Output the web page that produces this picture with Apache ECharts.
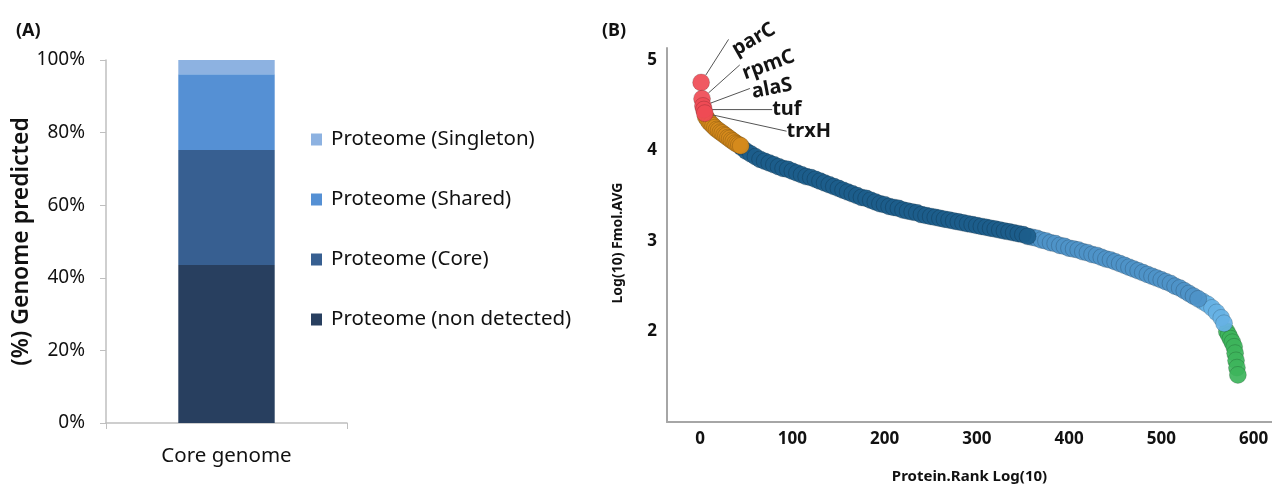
<!DOCTYPE html>
<html><head><meta charset="utf-8">
<script src="https://cdn.jsdelivr.net/npm/echarts@6/dist/echarts.min.js"></script>
<style>html,body{margin:0;padding:0;background:#fff}#c{width:1272px;height:488px}</style>
</head><body><div id="c"></div>
<script>
// ---------- Panel A data ----------
const barCategories = ['Core genome'];
const barSeriesNames = ['Proteome (non detected)', 'Proteome (Core)', 'Proteome (Shared)', 'Proteome (Singleton)'];
const barValues = [43.5, 31.7, 20.9, 3.9];
const legendOrder = ['Proteome (Singleton)', 'Proteome (Shared)', 'Proteome (Core)', 'Proteome (non detected)'];

// ---------- Panel B data ----------
const redNames = ['parC', 'rpmC', 'alaS', 'tuf', 'trxH'];
const redRanks = [1, 2, 3, 4, 5];
const redValues = [4.75, 4.57, 4.49, 4.45, 4.41];

const orangeRanks = [6, 8, 10, 12, 14, 16, 18, 20, 22, 24, 26, 28, 30, 32, 34, 36, 38, 40, 42, 44];
const orangeValues = [4.37, 4.34, 4.31, 4.29, 4.27, 4.25, 4.23, 4.22, 4.20, 4.19, 4.17, 4.16, 4.14, 4.13, 4.11, 4.10, 4.08, 4.07, 4.06, 4.05];

const darkBlueRanks = [45, 50, 55, 60, 65, 70, 75, 80, 85, 90, 95, 100, 105, 110, 115, 120, 125, 130, 135, 140, 145, 150, 155, 160, 165, 170, 175, 180, 185, 190, 195, 200, 205, 210, 215, 220, 225, 230, 235, 240, 245, 250, 255, 260, 265, 270, 275, 280, 285, 290, 295, 300, 305, 310, 315, 320, 325, 330, 335, 340, 345, 350, 355];
const darkBlueValues = [4.03, 3.99, 3.96, 3.93, 3.90, 3.88, 3.86, 3.84, 3.82, 3.80, 3.79, 3.77, 3.75, 3.73, 3.71, 3.70, 3.68, 3.66, 3.64, 3.62, 3.60, 3.58, 3.56, 3.54, 3.52, 3.50, 3.48, 3.47, 3.45, 3.43, 3.41, 3.40, 3.38, 3.37, 3.36, 3.34, 3.33, 3.32, 3.31, 3.29, 3.28, 3.27, 3.26, 3.25, 3.24, 3.23, 3.22, 3.21, 3.20, 3.19, 3.18, 3.17, 3.16, 3.15, 3.14, 3.13, 3.12, 3.11, 3.10, 3.09, 3.08, 3.07, 3.05];

const lightBlueRanks = [360, 365, 370, 375, 380, 385, 390, 395, 400, 405, 410, 415, 420, 425, 430, 435, 440, 445, 450, 455, 460, 465, 470, 475, 480, 485, 490, 495, 500, 505, 510, 515, 520, 525, 530, 535, 540];
const lightBlueValues = [3.04, 3.03, 3.01, 3.00, 2.98, 2.97, 2.95, 2.94, 2.92, 2.91, 2.90, 2.88, 2.87, 2.85, 2.84, 2.82, 2.80, 2.79, 2.77, 2.75, 2.73, 2.71, 2.69, 2.67, 2.65, 2.63, 2.61, 2.59, 2.57, 2.55, 2.53, 2.50, 2.48, 2.45, 2.42, 2.39, 2.36];

const paleBlueRanks = [545, 550, 555, 560, 565, 568];
const paleBlueValues = [2.33, 2.30, 2.26, 2.21, 2.15, 2.09];

const greenRanks = [571, 573, 575, 577, 579, 580, 581, 582, 583];
const greenValues = [2.00, 1.96, 1.92, 1.88, 1.83, 1.76, 1.68, 1.60, 1.52];

const xTickLabels = ['0', '100', '200', '300', '400', '500', '600'];
const yTickLabels = ['2', '3', '4', '5'];

// ---------- build ----------
const FONT = 'Noto Sans';
const barColors = ['#283f5f', '#375f91', '#5590d4', '#8db2e1'];
const pair = (xs, ys) => xs.map((x, i) => [x, ys[i]]);

// label offsets are expressed in the label's rotated frame
const annotationLayout = {
  parC: { dx: 67, dy: -11, rotate: 30 },
  rpmC: { dx: 74, dy: -9, rotate: 20 },
  alaS: { dx: 71, dy: -4, rotate: 11 },
  tuf:  { dx: 83, dy: 0, rotate: 0 },
  trxH: { dx: 104, dy: 18, rotate: 0 }
};

function scatterSeries(name, data, color, z) {
  return {
    name, type: 'scatter', xAxisIndex: 1, yAxisIndex: 1, z,
    symbolSize: 17, data,
    itemStyle: { color, opacity: 0.92, borderColor: 'rgba(0,0,0,0.18)', borderWidth: 1 }
  };
}

const chart = echarts.init(document.getElementById('c'));
const option = {
  backgroundColor: '#fff',
  animation: false,
  textStyle: { fontFamily: FONT },
  title: [
    { text: '(A)', left: 11, top: 17, textStyle: { fontFamily: FONT, fontSize: 18, fontWeight: 'bold', color: '#111' } },
    { text: '(B)', left: 597, top: 17, textStyle: { fontFamily: FONT, fontSize: 18, fontWeight: 'bold', color: '#111' } }
  ],
  legend: {
    data: legendOrder, orient: 'vertical', left: 306, top: 124,
    itemWidth: 11, itemHeight: 12, itemGap: 39, icon: 'rect',
    textStyle: { fontFamily: FONT, fontSize: 20.5, color: '#111', lineHeight: 20, padding: [0, 0, 0, 4] }
  },
  grid: [
    { left: 106, right: 1272 - 347, top: 60, bottom: 488 - 423, outerBoundsMode: 'none', containLabel: false },
    { left: 667, right: 0, top: 48, bottom: 488 - 422, outerBoundsMode: 'none', containLabel: false }
  ],
  xAxis: [
    {
      type: 'category', gridIndex: 0, data: barCategories,
      axisLine: { lineStyle: { color: '#bfbfbf', width: 1.5 } },
      axisTick: { show: true, length: 6, lineStyle: { color: '#bfbfbf' } },
      axisLabel: { fontFamily: FONT, fontSize: 20.5, color: '#111', margin: 23 }
    },
    {
      type: 'value', gridIndex: 1, min: -36, max: 620,
      axisLine: { show: true, onZero: false, lineStyle: { color: '#a6a6a6', width: 2 } },
      axisTick: { show: false }, splitLine: { show: false },
      axisLabel: {
        fontFamily: FONT, fontSize: 17, fontWeight: 'bold', color: '#111', margin: 9,
        showMinLabel: false, showMaxLabel: false,
        formatter: v => xTickLabels.includes(String(v)) ? String(v) : ''
      },
      name: 'Protein.Rank Log(10)', nameLocation: 'middle', nameGap: 47,
      nameTextStyle: { fontFamily: FONT, fontSize: 15, fontWeight: 'bold', color: '#111' }
    }
  ],
  yAxis: [
    {
      type: 'value', gridIndex: 0, min: 0, max: 100, interval: 20,
      axisLine: { show: true, lineStyle: { color: '#bfbfbf', width: 1.5 } },
      axisTick: { show: true, length: 6, lineStyle: { color: '#bfbfbf' } },
      splitLine: { show: false },
      axisLabel: { fontFamily: FONT, fontSize: 19, color: '#111', margin: 21, formatter: '{value}%' },
      name: '(%) Genome predicted', nameLocation: 'middle', nameRotate: 90, nameGap: 72,
      nameTextStyle: { fontFamily: FONT, fontSize: 23, fontWeight: 600, color: '#111' }
    },
    {
      type: 'value', gridIndex: 1, min: 1, max: 5.13, interval: 1,
      axisLine: { show: true, onZero: false, lineStyle: { color: '#a6a6a6', width: 2 } },
      axisTick: { show: false }, splitLine: { show: false },
      axisLabel: {
        fontFamily: FONT, fontSize: 17, fontWeight: 'bold', color: '#111', margin: 10,
        showMinLabel: false, showMaxLabel: false,
        formatter: v => yTickLabels.includes(String(v)) ? String(v) : ''
      },
      name: 'Log(10) Fmol.AVG', nameLocation: 'middle', nameRotate: 90, nameGap: 42,
      nameTextStyle: { fontFamily: FONT, fontSize: 14, fontWeight: 'bold', color: '#111', padding: [0, 16, 0, 0] }
    }
  ],
  series: [
    ...barSeriesNames.map((n, i) => ({
      name: n, type: 'bar', stack: 'genome', xAxisIndex: 0, yAxisIndex: 0,
      barWidth: '40%', data: [barValues[i]], itemStyle: { color: barColors[i] }
    })),
    scatterSeries('green', pair(greenRanks, greenValues), '#3db45b', 2),
    scatterSeries('pale', pair(paleBlueRanks, paleBlueValues), '#66b1e4', 3),
    scatterSeries('light', pair(lightBlueRanks, lightBlueValues), '#4e93c8', 4),
    scatterSeries('dark', pair(darkBlueRanks, darkBlueValues), '#1c5d8b', 5),
    scatterSeries('orange', pair(orangeRanks, orangeValues), '#d58a1c', 6),
    Object.assign(scatterSeries('red', redRanks.map((r, i) => ({ name: redNames[i], value: [r, redValues[i]] })), '#ef4b55', 7), {
      label: {
        show: true, position: 'inside', formatter: '{b}',
        fontFamily: FONT, fontSize: 20, fontWeight: 'bold', color: '#000'
      },
      labelLine: { show: true, lineStyle: { color: '#555', width: 1 } },
      labelLayout: p => Object.assign({}, annotationLayout[redNames[p.dataIndex]])
    })
  ]
};
chart.setOption(option);
</script>
</body></html>
